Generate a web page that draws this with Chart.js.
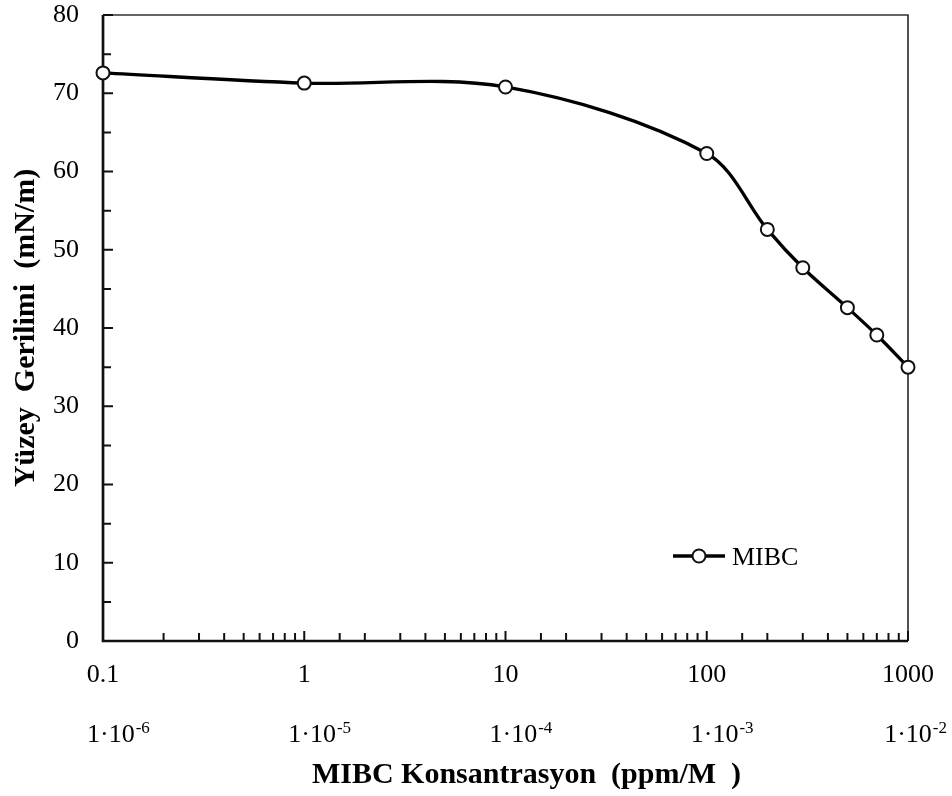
<!DOCTYPE html>
<html><head><meta charset="utf-8">
<script src="https://cdn.jsdelivr.net/npm/chart.js@4/dist/chart.umd.min.js"></script>
<style>html,body{margin:0;padding:0;background:#fff}canvas{display:block}</style>
</head><body>
<canvas id="c" width="952" height="796" style="width:952px;height:796px"></canvas>
<script>
// ---- data ----
const concentrationPpm = [0.1, 1, 10, 100, 200, 300, 500, 700, 1000];
const surfaceTension   = [72.6, 71.3, 70.8, 62.3, 52.6, 47.7, 42.6, 39.1, 35.0];
const seriesLabel = 'MIBC';
const molarDecades   = [0.1, 1, 10, 100, 1000];
const molarExponents = ['-6', '-5', '-4', '-3', '-2'];
const molarBase = '1\u00B710';
const yTitle = 'Y\u00FCzey  Gerilimi  (mN/m)';
const xTitle = 'MIBC Konsantrasyon  (ppm/M  )';

const FONT = "'Liberation Serif', 'Times New Roman', serif";

function isDecade(v) {
  const l = Math.log10(v);
  return Math.abs(l - Math.round(l)) < 1e-6;
}

const framePlugin = {
  id: 'frame',
  beforeDatasetsDraw(chart) {
    const { ctx, chartArea: a, scales: { x, y } } = chart;
    ctx.save();
    ctx.lineCap = 'butt';
    // top & right (thinner)
    ctx.strokeStyle = '#333';
    ctx.lineWidth = 1.7;
    ctx.beginPath();
    ctx.moveTo(a.left, a.top); ctx.lineTo(a.right, a.top); ctx.lineTo(a.right, a.bottom);
    ctx.stroke();
    // inward tick marks
    ctx.strokeStyle = '#111';
    ctx.lineWidth = 2;
    ctx.beginPath();
    y.ticks.forEach(t => {
      const py = y.getPixelForValue(t.value);
      const len = (Math.round(t.value) % 10 === 0) ? 10 : 8;
      ctx.moveTo(a.left, py); ctx.lineTo(a.left + len, py);
    });
    x.ticks.forEach(t => {
      const px = x.getPixelForValue(t.value);
      const len = isDecade(t.value) ? 10 : 8;
      ctx.moveTo(px, a.bottom); ctx.lineTo(px, a.bottom - len);
    });
    ctx.stroke();
    // left & bottom axes (thicker)
    ctx.lineWidth = 2.7;
    ctx.beginPath();
    ctx.moveTo(a.left, a.top); ctx.lineTo(a.left, a.bottom); ctx.lineTo(a.right, a.bottom);
    ctx.stroke();
    ctx.restore();
  },
  afterDraw(chart) {
    const { ctx, chartArea: a, scales: { x } } = chart;
    const ds = chart.data.datasets[0];
    ctx.save();
    ctx.fillStyle = '#000';
    // second row of x labels (molar)
    molarDecades.forEach((d, i) => {
      const px = x.getPixelForValue(d);
      ctx.textAlign = 'left';
      ctx.textBaseline = 'alphabetic';
      ctx.font = '26px ' + FONT;
      const w = ctx.measureText(molarBase).width;
      ctx.font = '17px ' + FONT;
      const we = ctx.measureText(molarExponents[i]).width;
      const start = Math.min(px - 16, chart.width - 5 - (w + 1 + we));
      ctx.font = '26px ' + FONT;
      ctx.fillText(molarBase, start, a.bottom + 101);
      ctx.font = '17px ' + FONT;
      ctx.fillText(molarExponents[i], start + w + 1, a.bottom + 92);
    });
    // x axis title
    ctx.font = 'bold 30px ' + FONT;
    ctx.textAlign = 'center';
    ctx.textBaseline = 'alphabetic';
    ctx.fillText(xTitle, (a.left + a.right) / 2 + 21, a.bottom + 142);
    // legend (inside plot)
    const ly = a.top + 541;
    const lx0 = a.left + 570, lx1 = a.left + 622, lc = a.left + 596;
    ctx.strokeStyle = ds.borderColor;
    ctx.lineWidth = ds.borderWidth;
    ctx.beginPath(); ctx.moveTo(lx0, ly); ctx.lineTo(lx1, ly); ctx.stroke();
    ctx.beginPath(); ctx.arc(lc, ly, ds.pointRadius, 0, Math.PI * 2);
    ctx.fillStyle = ds.pointBackgroundColor; ctx.fill();
    ctx.lineWidth = ds.pointBorderWidth; ctx.strokeStyle = ds.pointBorderColor; ctx.stroke();
    ctx.fillStyle = '#000';
    ctx.font = '26px ' + FONT;
    ctx.textAlign = 'left';
    ctx.textBaseline = 'middle';
    ctx.fillText(ds.label, a.left + 629, ly + 2);
    ctx.restore();
  }
};

const points = concentrationPpm.map((c, i) => ({ x: c, y: surfaceTension[i] }));

new Chart(document.getElementById('c'), {
  type: 'line',
  data: {
    datasets: [{
      label: seriesLabel,
      data: points,
      borderColor: '#000',
      borderWidth: 3.3,
      tension: 0.33,
      pointRadius: 6.5,
      pointBorderWidth: 2,
      pointBackgroundColor: '#fff',
      pointBorderColor: '#111',
      clip: false
    }]
  },
  options: {
    responsive: false,
    devicePixelRatio: 1,
    animation: false,
    events: [],
    layout: { padding: { top: 15, right: 44, left: 0, bottom: 0 } },
    plugins: { legend: { display: false }, tooltip: { enabled: false } },
    scales: {
      x: {
        type: 'logarithmic',
        position: 'bottom',
        min: 0.1, max: 1000,
        grid: { display: false, drawTicks: false },
        border: { display: false },
        title: { display: false, text: xTitle },
        ticks: {
          autoSkip: false, maxRotation: 0, minRotation: 0,
          padding: 19,
          color: '#000',
          font: { family: FONT, size: 26 },
          callback: (v) => isDecade(v) ? (v >= 1 ? String(Math.round(v)) : String(Number(v.toPrecision(3)))) : ''
        },
        afterFit: (s) => { s.height = 155; s.paddingLeft = 0; s.paddingRight = 0; }
      },
      y: {
        type: 'linear',
        min: 0, max: 80,
        grid: { display: false, drawTicks: false },
        border: { display: false },
        title: {
          display: true, text: yTitle, color: '#000',
          font: { family: FONT, size: 30, weight: 'bold' },
          padding: { top: 8, bottom: 0 }
        },
        ticks: {
          stepSize: 5, autoSkip: false,
          padding: 24,
          color: '#000',
          font: { family: FONT, size: 26 },
          callback: (v) => (v % 10 === 0 ? String(v) : '')
        },
        afterFit: (s) => { s.width = 103; s.paddingTop = 0; s.paddingBottom = 0; }
      }
    }
  },
  plugins: [framePlugin]
});
</script>
</body></html>
